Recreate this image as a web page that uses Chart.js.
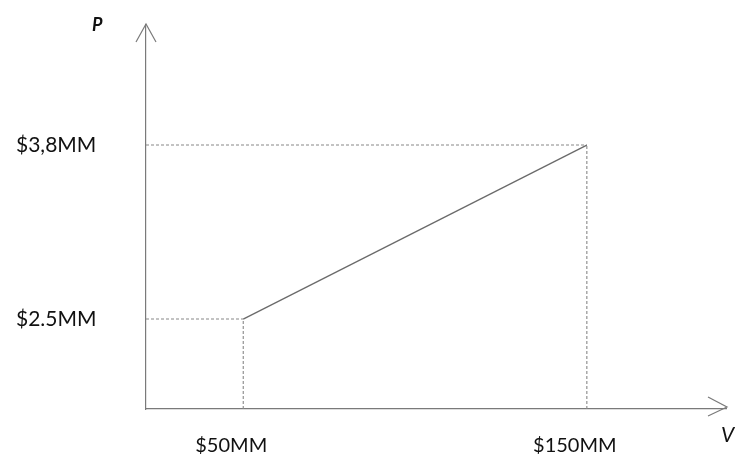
<!DOCTYPE html>
<html>
<head>
<meta charset="utf-8">
<script src="https://cdn.jsdelivr.net/npm/chart.js@4.4.1/dist/chart.umd.min.js"></script>
<style>
  html, body { margin: 0; padding: 0; background: #ffffff; }
  #wrap { width: 735px; height: 454px; }
</style>
</head>
<body>
<div id="wrap"><canvas id="c" width="735" height="454"></canvas></div>
<script>
// ---- data ----
const xTicks = [50, 150];
const xLabels = ['$50MM', '$150MM'];
const yTicks = [2.5, 3.8];
const yLabels = ['$2.5MM', '$3,8MM'];
const priceX = [50, 150];
const priceY = [2.5, 3.8];
const xAxisLabel = 'V';
const yAxisLabel = 'P';

// scale extents (sketch axes do not start at zero)
const xMin = 21.7, xMax = 190.5;
const yMin = 1.828, yMax = 4.697;

const lineColor = '#7a7a7a';
const textColor = '#111111';

const solidLine = priceX.map((x, i) => ({ x: x, y: priceY[i] }));
const guides = [
  [{ x: xMin, y: priceY[0] }, { x: priceX[0], y: priceY[0] }],
  [{ x: priceX[0], y: yMin }, { x: priceX[0], y: priceY[0] }],
  [{ x: xMin, y: priceY[1] }, { x: priceX[1], y: priceY[1] }],
  [{ x: priceX[1], y: yMin }, { x: priceX[1], y: priceY[1] }]
];

const datasets = [{
  data: solidLine, borderColor: '#6a6a6a', borderWidth: 1.3,
  pointRadius: 0, showLine: true, fill: false
}].concat(guides.map(g => ({
  data: g, borderColor: '#888888', borderWidth: 1.1, borderDash: [3, 2],
  pointRadius: 0, showLine: true, fill: false
})));

const arrowPlugin = {
  id: 'arrows',
  afterDraw(chart) {
    const ctx = chart.ctx, a = chart.chartArea;
    ctx.save();
    ctx.strokeStyle = lineColor;
    ctx.lineWidth = 1.2;
    // y arrow
    ctx.beginPath();
    ctx.moveTo(a.left - 10, a.top + 17);
    ctx.lineTo(a.left, a.top - 1);
    ctx.lineTo(a.left + 10, a.top + 17);
    ctx.stroke();
    // x arrow
    ctx.beginPath();
    ctx.moveTo(a.right - 18, a.bottom - 12);
    ctx.lineTo(a.right + 1, a.bottom - 2);
    ctx.lineTo(a.right - 18, a.bottom + 7);
    ctx.stroke();
    // axis names
    ctx.fillStyle = textColor;
    ctx.font = 'italic bold 18px Lato';
    ctx.textAlign = 'left';
    ctx.textBaseline = 'middle';
    ctx.fillText(yAxisLabel, a.left - 54, a.top);
    ctx.font = 'italic 21px Lato';
    ctx.fillText(xAxisLabel, a.right - 5, a.bottom + 26);
    ctx.restore();
  }
};

new Chart(document.getElementById('c'), {
  type: 'scatter',
  data: { datasets: datasets },
  options: {
    responsive: false,
    animation: false,
    devicePixelRatio: 1,
    layout: { padding: { top: 25, right: 9, left: 16, bottom: 0 } },
    plugins: { legend: { display: false }, tooltip: { enabled: false } },
    scales: {
      x: {
        type: 'linear', min: xMin, max: xMax,
        grid: { display: false, drawTicks: false },
        border: { display: true, color: lineColor, width: 1.2 },
        afterBuildTicks: s => { s.ticks = xTicks.map(v => ({ value: v })); },
        afterFit: s => { s.height = 45; },
        ticks: {
          autoSkip: false, maxRotation: 0, padding: 25, labelOffset: -12,
          color: textColor, font: { family: 'Lato', size: 20 },
          callback: (v, i) => xLabels[i]
        }
      },
      y: {
        type: 'linear', min: yMin, max: yMax,
        grid: { display: false, drawTicks: false },
        border: { display: true, color: lineColor, width: 1.2 },
        afterBuildTicks: s => { s.ticks = yTicks.map(v => ({ value: v })); },
        afterFit: s => { s.width = 130; },
        ticks: {
          autoSkip: false, padding: 0, crossAlign: 'far',
          color: textColor, font: { family: 'Lato', size: 21 },
          callback: (v, i) => yLabels[i]
        }
      }
    }
  },
  plugins: [arrowPlugin]
});
</script>
</body>
</html>
